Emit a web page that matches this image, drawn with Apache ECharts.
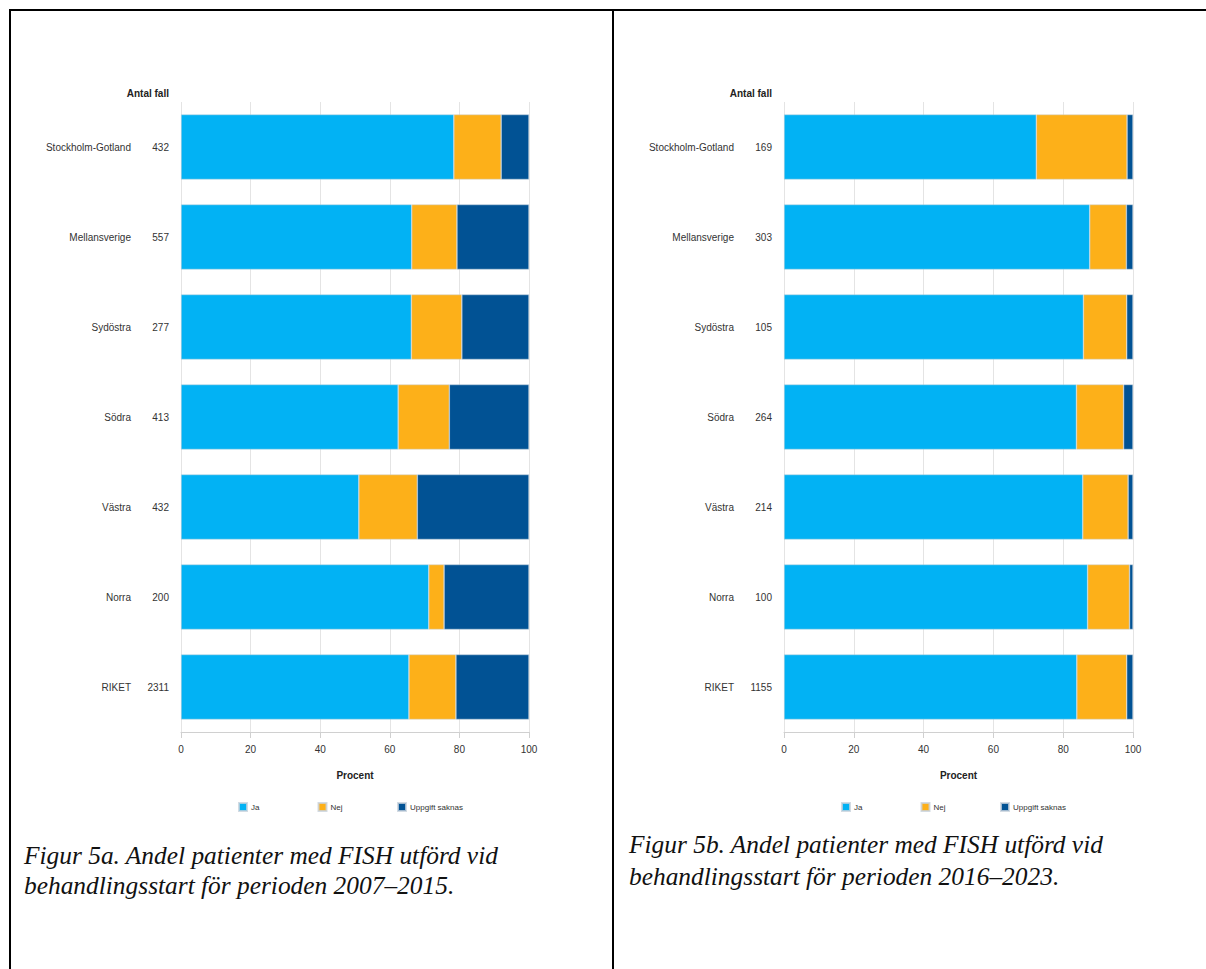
<!DOCTYPE html>
<html>
<head>
<meta charset="utf-8">
<script src="https://cdn.jsdelivr.net/npm/echarts@6/dist/echarts.min.js"></script>
<style>
html,body{margin:0;padding:0;background:#fff;}
#chart{position:absolute;left:0;top:0;width:1206px;height:969px;}
</style>
</head>
<body>
<div id="chart"></div>
<script>
var regions = ['Stockholm-Gotland','Mellansverige','Sydöstra','Södra','Västra','Norra','RIKET'];
var seriesNames = ['Ja','Nej','Uppgift saknas'];
var xTicks = [0,20,40,60,80,100];

// Figur 5a: 2007–2015
var countsA = [432,557,277,413,432,200,2311];
var jaA   = [78.4,66.3,66.2,62.4,51.1,71.2,65.5];
var nejA  = [13.6,13.0,14.5,14.7,16.8,4.4,13.5];
var uppA  = [8.0,20.7,19.3,22.9,32.1,24.4,21.0];

// Figur 5b: 2016–2023
var countsB = [169,303,105,264,214,100,1155];
var jaB   = [72.3,87.6,85.8,83.8,85.6,87.0,83.9];
var nejB  = [26.0,10.5,12.4,13.5,13.0,12.0,14.3];
var uppB  = [1.7,1.9,1.8,2.7,1.4,1.0,1.8];

var captionA = ['Figur 5a. Andel patienter med FISH utförd vid','behandlingsstart för perioden 2007–2015.'];
var captionB = ['Figur 5b. Andel patienter med FISH utförd vid','behandlingsstart för perioden 2016–2023.'];

var colors = ['#02b2f4','#fdb019','#015294'];
var FONT = 'Liberation Sans, Arial, sans-serif';

function yAxis(gridIndex, counts){
  return {
    type:'category', gridIndex:gridIndex, data:regions, inverse:true,
    axisLine:{show:false}, axisTick:{show:false}, splitLine:{show:false},
    axisLabel:{
      margin:12, align:'right',
      formatter:function(v, i){ return '{n|' + v + '}{c|' + counts[i] + '}'; },
      rich:{
        n:{fontSize:10, color:'#333', fontFamily:FONT},
        c:{fontSize:10, color:'#333', fontFamily:FONT, width:38, align:'right'}
      }
    }
  };
}
function xAxis(gridIndex){
  return {
    type:'value', gridIndex:gridIndex, min:xTicks[0], max:xTicks[xTicks.length-1], interval:xTicks[1]-xTicks[0],
    name:'Procent', nameLocation:'middle', nameGap:38,
    nameTextStyle:{fontSize:10, fontWeight:'bold', color:'#222', fontFamily:FONT},
    axisLine:{show:true, lineStyle:{color:'#d0d0d0', width:1}},
    axisTick:{show:true, length:6, lineStyle:{color:'#d0d0d0'}},
    axisLabel:{fontSize:10, color:'#333', margin:12, fontFamily:FONT},
    splitLine:{show:true, lineStyle:{color:'#e4e4e4', width:1}}
  };
}
function bars(gridIndex, stack, arrs){
  return arrs.map(function(d, k){
    return {
      type:'bar', name:seriesNames[k], xAxisIndex:gridIndex, yAxisIndex:gridIndex,
      stack:stack, data:d, barWidth:65, itemStyle:{color:colors[k], borderColor:'rgba(200,210,220,0.8)', borderWidth:0.6},
      emphasis:{disabled:true}
    };
  });
}
function legends(startLeft){
  return seriesNames.map(function(n, k){
    return {
      left:startLeft + k*79.5, top:797, icon:'rect', itemWidth:8, itemHeight:8, itemGap:5,
      data:[n], selectedMode:false,
      textStyle:{fontSize:8, color:'#333', fontFamily:FONT, padding:[0,0,0,-1]}
    };
  });
}
function captionText(x, y, gap, lines){
  return lines.map(function(t, i){
    return {type:'text', left:x, top:y + i*gap,
      style:{text:t, font:'italic 25.4px "Liberation Serif", serif', fill:'#111'}};
  });
}

var chart = echarts.init(document.getElementById('chart'), null, {renderer:'svg'});
var option = {
  backgroundColor:'#fff',
  animation:false,
  color:colors,
  grid:[
    {left:181, width:348, top:102, height:630},
    {left:784, width:349, top:102, height:630}
  ],
  xAxis:[xAxis(0), xAxis(1)],
  yAxis:[yAxis(0, countsA), yAxis(1, countsB)],
  legend: legends(233).concat(legends(836)),
  series: bars(0,'a',[jaA,nejA,uppA]).concat(bars(1,'b',[jaB,nejB,uppB])),
  graphic:[
    {type:'line', shape:{x1:9, y1:10, x2:1206, y2:10}, style:{stroke:'#000', lineWidth:2}},
    {type:'line', shape:{x1:10, y1:10, x2:10, y2:969}, style:{stroke:'#000', lineWidth:2}},
    {type:'line', shape:{x1:613, y1:10, x2:613, y2:969}, style:{stroke:'#000', lineWidth:2}},
    {type:'text', right:1206-169, top:88, style:{text:'Antal fall', font:'bold 10px ' + FONT, fill:'#222', textAlign:'right'}},
    {type:'text', right:1206-772, top:88, style:{text:'Antal fall', font:'bold 10px ' + FONT, fill:'#222', textAlign:'right'}}
  ].concat(captionText(24, 842, 30, captionA)).concat(captionText(629, 831, 32, captionB))
};
chart.setOption(option);
</script>
</body>
</html>
